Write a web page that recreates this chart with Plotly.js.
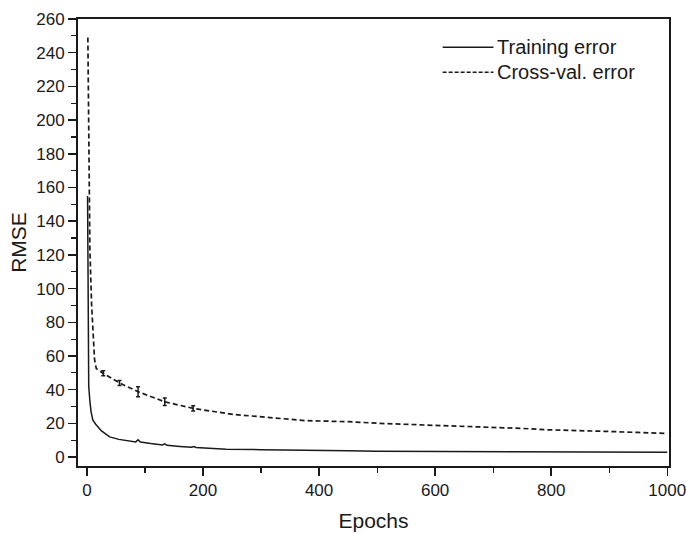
<!DOCTYPE html>
<html>
<head>
<meta charset="utf-8">
<script src="https://cdn.plot.ly/plotly-3.0.1.min.js"></script>
<style>html,body{margin:0;padding:0;background:#fff;}#chart{width:686px;height:533px;}</style>
</head>
<body>
<div id="chart"></div>
<script>
// Training error
const trainEpochs = [1, 1.6, 2, 3, 5, 7, 10, 15, 25, 39, 55, 70, 84, 88, 92, 110, 130, 134, 138, 160, 180, 184, 188, 210, 240, 300, 378, 450, 500, 600, 700, 800, 900, 1000];
const trainRMSE   = [155, 80, 52, 42, 33, 27, 22, 19.5, 15.5, 12, 10.5, 9.6, 9.0, 10.3, 8.9, 8.0, 7.2, 7.9, 7.0, 6.3, 5.8, 6.3, 5.7, 5.2, 4.7, 4.4, 4.2, 3.8, 3.4, 3.3, 3.2, 3.0, 2.9, 2.8];
// Cross-validation error
const cvEpochs = [1.5, 3, 4, 5, 8, 10, 13, 16, 28, 56, 88, 134, 183, 252, 300, 378, 450, 505, 600, 677, 750, 792, 850, 900, 950, 1000];
const cvRMSE   = [249, 190, 150, 123, 90, 73, 58, 52.5, 49.7, 44, 38.8, 32.8, 28.9, 25.3, 23.8, 21.6, 21, 20, 18.8, 18, 17, 16.2, 15.8, 15.2, 14.6, 14];
// small error marks on the cross-val curve
const cvMarkEpochs = [28, 56, 88, 134, 183];
const cvMarkRMSE   = [49.7, 44, 38.8, 32.8, 28.9];
const cvMarkErr    = [1.5, 1.5, 3, 2.2, 1.5];
const legendLabels = ["Training error", "Cross-val. error"];

const font = "Liberation Sans, Arial, sans-serif";
const traces = [
  {x: trainEpochs, y: trainRMSE, mode: "lines", line: {color: "#1a1a1a", width: 1.5}, showlegend: false},
  {x: cvEpochs, y: cvRMSE, mode: "lines", line: {color: "#1a1a1a", width: 1.7, dash: "5px,3px"}, showlegend: false},
  {x: cvMarkEpochs, y: cvMarkRMSE, mode: "markers", marker: {size: 1, color: "#1a1a1a"},
   error_y: {type: "data", array: cvMarkErr, visible: true, color: "#1a1a1a", thickness: 1.5, width: 2}, showlegend: false}
];

const layout = {
  width: 686, height: 533,
  margin: {l: 78, r: 17, t: 19, b: 67},
  paper_bgcolor: "#fff", plot_bgcolor: "#fff",
  font: {family: font, color: "#1a1a1a", size: 17},
  showlegend: false,
  xaxis: {
    range: [-15.5, 1003], showgrid: false, zeroline: false,
    showline: true, linecolor: "#1a1a1a", linewidth: 2, mirror: true,
    ticks: "outside", ticklen: 8, tickwidth: 1.5, tickcolor: "#1a1a1a",
    tickvals: [0, 200, 400, 600, 800, 1000],
    ticklabeloverflow: "allow",
    minor: {ticks: "outside", ticklen: 5, tickwidth: 1.2, dtick: 100, tick0: 0, tickcolor: "#1a1a1a", showgrid: false},
    tickfont: {size: 17, family: font},
    title: {text: "Epochs", font: {size: 21, family: font}, standoff: 14}
  },
  yaxis: {
    range: [-5.3, 260], showgrid: false, zeroline: false,
    showline: true, linecolor: "#1a1a1a", linewidth: 2, mirror: true,
    ticks: "outside", ticklen: 8, tickwidth: 1.5, tickcolor: "#1a1a1a",
    tickvals: [0,20,40,60,80,100,120,140,160,180,200,220,240,260],
    minor: {ticks: "outside", ticklen: 5, tickwidth: 1.2, dtick: 10, tick0: 0, tickcolor: "#1a1a1a", showgrid: false},
    tickfont: {size: 17, family: font},
    title: {text: "RMSE", font: {size: 21, family: font}, standoff: 4}
  },
  shapes: [
    {type: "line", xref: "paper", yref: "paper", x0: 0.617, x1: 0.703, y0: 0.937, y1: 0.937, line: {color: "#1a1a1a", width: 1.5}},
    {type: "line", xref: "paper", yref: "paper", x0: 0.617, x1: 0.703, y0: 0.881, y1: 0.881, line: {color: "#1a1a1a", width: 1.5, dash: "4px,2px"}}
  ],
  annotations: [
    {xref: "paper", yref: "paper", x: 0.706, y: 0.937, text: legendLabels[0], showarrow: false, xanchor: "left", yanchor: "middle", font: {size: 20, family: font}},
    {xref: "paper", yref: "paper", x: 0.706, y: 0.881, text: legendLabels[1], showarrow: false, xanchor: "left", yanchor: "middle", font: {size: 20, family: font}}
  ]
};
Plotly.newPlot("chart", traces, layout, {displayModeBar: false, staticPlot: true});
</script>
</body>
</html>
